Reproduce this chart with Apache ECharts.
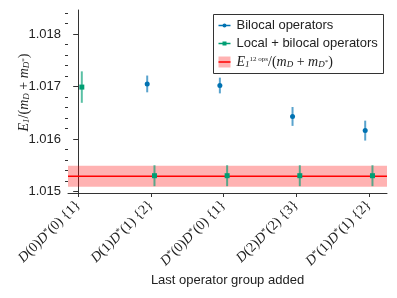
<!DOCTYPE html>
<html><head><meta charset="utf-8">
<script src="https://cdn.jsdelivr.net/npm/echarts@6/dist/echarts.min.js"></script>
<style>html,body{margin:0;padding:0;background:#fff}#c{width:397px;height:298px}</style>
</head><body><div id="c"></div>
<script>
// ---- data ----
const categories = ['D(0)D*(0) {1}', 'D(1)D*(1) {2}', 'D*(0)D*(0) {1}', 'D(2)D*(2) {3}', 'D*(1)D*(1) {2}'];
const categoryPositions = [0, 1, 2, 3, 4];
const bilocalIndex = [1, 2, 3, 4];
const bilocalValues = [1.01705, 1.01702, 1.01643, 1.01616];
const bilocalErrors = [0.00016, 0.00015, 0.00018, 0.00019];
const localIndex = [0, 1, 2, 3, 4];
const localValues = [1.01699, 1.01530, 1.01530, 1.01530, 1.01530];
const localErrors = [0.00030, 0.00020, 0.00020, 0.00020, 0.00020];
const refValue = 1.01529;
const refError = 0.00020;
const yTicks = [1.015, 1.016, 1.017, 1.018];
const yMinorTicks = [1.0152, 1.0154, 1.0156, 1.0158, 1.0162, 1.0164, 1.0166, 1.0168,
  1.0172, 1.0174, 1.0176, 1.0178, 1.0182, 1.0184];

const BLUE = '#0072B2', GREEN = '#009E73';
const OFF = 0.05;
const SANS = 'Liberation Sans, Arial, sans-serif';
const SERIF = 'Liberation Serif, DejaVu Serif, serif';

function catRich(s) {
  let out = '';
  for (const ch of s) {
    if (ch === 'D') out += '{i|D}';
    else if (ch === '*') out += '{s|*}';
    else out += ch;
  }
  return out;
}

const bilocalPts = bilocalIndex.map((c, i) => [c - OFF, bilocalValues[i], bilocalErrors[i]]);
const localPts = localIndex.map((c, i) => [c + OFF, localValues[i], localErrors[i]]);

function errRender(color) {
  return function (params, api) {
    const x = api.value(0), y = api.value(1), e = api.value(2);
    const p1 = api.coord([x, y - e]), p2 = api.coord([x, y + e]);
    return {
      type: 'line',
      shape: { x1: p1[0], y1: p1[1], x2: p2[0], y2: p2[1] },
      style: { stroke: color, lineWidth: 2, opacity: 0.65 }
    };
  };
}

function bandRender(params, api) {
  const cs = params.coordSys;
  const v = api.value(0), e = api.value(1);
  const yTop = api.coord([0, v + e])[1], yBot = api.coord([0, v - e])[1], yMid = api.coord([0, v])[1];
  return {
    type: 'group',
    children: [
      { type: 'rect', shape: { x: cs.x, y: yTop, width: cs.width, height: yBot - yTop },
        style: { fill: 'rgba(255,0,0,0.3)' } },
      { type: 'line', shape: { x1: cs.x, y1: yMid, x2: cs.x + cs.width, y2: yMid },
        style: { stroke: '#ff0000', lineWidth: 1.5 } }
    ]
  };
}

const chart = echarts.init(document.getElementById('c'), null, { renderer: 'canvas' });
chart.setOption({
  animation: false,
  backgroundColor: '#fff',
  grid: { left: 68, right: 10, top: 10, bottom: 105, outerBoundsMode: 'none', containLabel: false },
  xAxis: {
    type: 'value', min: -0.14, max: 4.25,
    splitLine: { show: false },
    axisLine: { onZero: false, lineStyle: { color: '#333', width: 1 } },
    axisTick: { customValues: categoryPositions, length: 4, lineStyle: { color: '#333' } },
    axisLabel: {
      customValues: categoryPositions, rotate: 45, margin: 10,
      fontFamily: SERIF, fontSize: 14, color: '#222',
      formatter: v => catRich(categories[Math.round(v)]),
      rich: {
        i: { fontFamily: SERIF, fontStyle: 'italic', fontSize: 14, color: '#222' },
        s: { fontFamily: SERIF, fontSize: 9, color: '#222', verticalAlign: 'top' }
      }
    },
    name: 'Last operator group added', nameLocation: 'middle', nameGap: 81, nameMoveOverlap: false,
    nameTextStyle: { fontFamily: SANS, fontSize: 13, color: '#222' }
  },
  yAxis: [{
    type: 'value', min: 1.01497, max: 1.01846,
    splitLine: { show: false },
    axisLine: { show: true, lineStyle: { color: '#333', width: 1 } },
    axisTick: { show: true, customValues: yTicks, length: 5, lineStyle: { color: '#333' } },
    axisLabel: { customValues: yTicks, margin: 7, fontFamily: SANS, fontSize: 13, color: '#222',
      formatter: v => v.toFixed(3) },
    name: '{i|E}{b|1}/({i|m}{b|D} + {i|m}{b|D}{s|*})',
    nameLocation: 'middle', nameRotate: 90, nameGap: 37, nameMoveOverlap: false,
    nameTextStyle: {
      fontFamily: SERIF, fontSize: 14, color: '#222', padding: [0, 0, 0, 18],
      rich: {
        i: { fontFamily: SERIF, fontStyle: 'italic', fontSize: 14, color: '#222' },
        b: { fontFamily: SERIF, fontStyle: 'italic', fontSize: 9, color: '#222', verticalAlign: 'bottom' },
        s: { fontFamily: SERIF, fontSize: 7, color: '#222', verticalAlign: 'middle' }
      }
    }
  }, {
    type: 'value', min: 1.01497, max: 1.01846, position: 'left',
    splitLine: { show: false },
    axisLine: { show: false },
    axisTick: { show: true, customValues: yMinorTicks, length: 3, lineStyle: { color: '#333' } },
    axisLabel: { show: false }
  }],
  series: [
    { type: 'custom', renderItem: bandRender, data: [[refValue, refError]], z: 1, silent: true, clip: true },
    { type: 'custom', renderItem: errRender(BLUE), data: bilocalPts, z: 3, silent: true },
    { type: 'scatter', data: bilocalPts, symbol: 'circle', symbolSize: 5,
      itemStyle: { color: BLUE, opacity: 1 }, z: 4, silent: true },
    { type: 'custom', renderItem: errRender(GREEN), data: localPts, z: 3, silent: true },
    { type: 'scatter', data: localPts, symbol: 'rect', symbolSize: 5,
      itemStyle: { color: GREEN, opacity: 1 }, z: 4, silent: true }
  ],
  graphic: [{
    type: 'group', left: 213, top: 14, z: 100,
    children: [
      { type: 'rect', shape: { x: 0, y: 0, width: 170, height: 59 },
        style: { fill: '#fff', stroke: '#333', lineWidth: 1 } },
      { type: 'line', shape: { x1: 5, y1: 11, x2: 17, y2: 11 }, style: { stroke: BLUE, lineWidth: 1.5 } },
      { type: 'circle', shape: { cx: 11, cy: 11, r: 2 }, style: { fill: BLUE } },
      { type: 'text', x: 23, y: 11, style: { text: 'Bilocal operators', fontFamily: SANS, fontSize: 13,
        fill: '#222', verticalAlign: 'middle' } },
      { type: 'line', shape: { x1: 5, y1: 29, x2: 17, y2: 29 }, style: { stroke: GREEN, lineWidth: 1.5 } },
      { type: 'rect', shape: { x: 9, y: 27, width: 4, height: 4 }, style: { fill: GREEN } },
      { type: 'text', x: 23, y: 29, style: { text: 'Local + bilocal operators', fontFamily: SANS, fontSize: 13,
        fill: '#222', verticalAlign: 'middle' } },
      { type: 'rect', shape: { x: 5, y: 42, width: 12, height: 11 }, style: { fill: 'rgba(255,0,0,0.3)' } },
      { type: 'line', shape: { x1: 5, y1: 47.5, x2: 17, y2: 47.5 }, style: { stroke: '#ff0000', lineWidth: 1.5 } },
      { type: 'text', x: 23, y: 48, style: {
        text: '{i|E}{b|1}{p|12 ops}/({i|m}{b|D} + {i|m}{b|D}{s|*})',
        fontFamily: SERIF, fontSize: 14, fill: '#222', verticalAlign: 'middle',
        rich: {
          i: { fontFamily: SERIF, fontStyle: 'italic', fontSize: 14, fill: '#222' },
          b: { fontFamily: SERIF, fontStyle: 'italic', fontSize: 9, fill: '#222', verticalAlign: 'bottom' },
          p: { fontFamily: SERIF, fontSize: 7, fill: '#222', verticalAlign: 'top' },
          s: { fontFamily: SERIF, fontSize: 7, fill: '#222', verticalAlign: 'middle' }
        } } }
    ]
  }]
});
</script>
</body></html>
